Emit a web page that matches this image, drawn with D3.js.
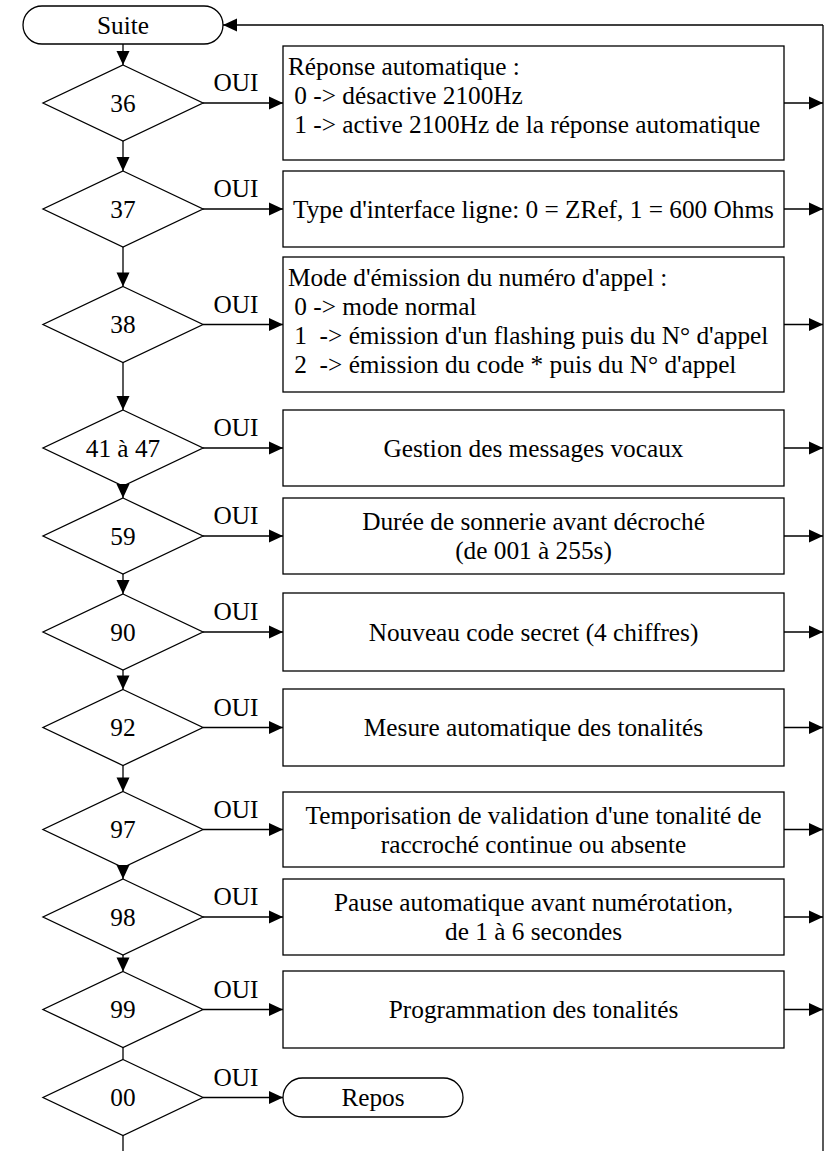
<!DOCTYPE html>
<html><head><meta charset="utf-8">
<script src="https://cdn.jsdelivr.net/npm/d3@7"></script>
<style>
body{margin:0;background:#fff}
svg text{font-family:"Liberation Serif","Times New Roman",Times,"DejaVu Serif",serif;font-size:25.3px;fill:#000}
</style>
</head><body>
<svg id="c" width="825" height="1151"></svg>
<script>
// ---- content ----
const startLabel = "Suite";
const endLabel = "Repos";
const yesLabel = "OUI";
const decisionCodes = ["36","37","38","41 à 47","59","90","92","97","98","99","00"];
const actionTexts = [
  ["Réponse automatique :", " 0 -> désactive 2100Hz", " 1 -> active 2100Hz de la réponse automatique"],
  ["Type d'interface ligne: 0 = ZRef, 1 = 600 Ohms"],
  ["Mode d'émission du numéro d'appel :", " 0 -> mode normal", " 1  -> émission d'un flashing puis du N° d'appel", " 2  -> émission du code * puis du N° d'appel"],
  ["Gestion des messages vocaux"],
  ["Durée de sonnerie avant décroché", "(de 001 à 255s)"],
  ["Nouveau code secret (4 chiffres)"],
  ["Mesure automatique des tonalités"],
  ["Temporisation de validation d'une tonalité de", "raccroché continue ou absente"],
  ["Pause automatique avant numérotation,", "de 1 à 6 secondes"],
  ["Programmation des tonalités"]
];
// links between consecutive decisions: true = arrow head, false = plain line
const linkHeads = [true,true,true,true,true,true,true,true,true,false];

// ---- layout (not data) ----
const layout = {
  boxTop:    [46,171,257,410,498,593,689,792,879,971,1078],
  boxBottom: [160,247,392,486,574,671,766,867,955,1048,1117],
  textMode:  ["top","mid","top","mid","mid","mid","mid","mid","mid","mid"],
  cx: 123, dHalfW: 80, dHalfH: 38,
  boxL: 283, boxR: 784, busX: 823,
  startBox: {x0: 23, x1: 223, y0: 6, y1: 44},
  endBoxR: 463,
  lineH: 29, yesX: 236
};

const svg = d3.select("#c");
const g = svg.append("g").attr("fill","none").attr("stroke","#000").attr("stroke-width",1.3);
const tg = svg.append("g");

const yRow = d3.scaleOrdinal().domain(d3.range(decisionCodes.length))
  .range(layout.boxTop.map((t,i)=>(t+layout.boxBottom[i])/2));

function arrowHead(x, y, dir){
  const L = 14, W = 6.5;
  let pts;
  if(dir==="down") pts=[[x,y],[x-W,y-L],[x+W,y-L]];
  else if(dir==="right") pts=[[x,y],[x-L,y-W],[x-L,y+W]];
  else pts=[[x,y],[x+L,y-W],[x+L,y+W]];
  svg.append("path").attr("d", d3.line()(pts)+"Z").attr("fill","#000").attr("stroke","none");
}
function line(x1,y1,x2,y2){
  g.append("line").attr("x1",x1).attr("y1",y1).attr("x2",x2).attr("y2",y2);
}
function terminal(x0,x1,y0,y1,label){
  const r=(y1-y0)/2;
  g.append("rect").attr("x",x0).attr("y",y0).attr("width",x1-x0).attr("height",y1-y0)
    .attr("rx",r).attr("ry",r).attr("fill","#fff");
  tg.append("text").attr("x",(x0+x1)/2).attr("y",(y0+y1)/2+8.5).attr("text-anchor","middle").text(label);
}

const cx = layout.cx, hw = layout.dHalfW, hh = layout.dHalfH;
const sb = layout.startBox;

const busTop = (sb.y0+sb.y1)/2;
line(layout.busX, busTop, layout.busX, 1151);
line(layout.busX, busTop, sb.x1, busTop);
arrowHead(sb.x1, busTop, "left");

terminal(sb.x0, sb.x1, sb.y0, sb.y1, startLabel);
line(cx, sb.y1, cx, yRow(0)-hh);
arrowHead(cx, yRow(0)-hh, "down");

decisionCodes.forEach((code,i)=>{
  const cy = yRow(i);
  g.append("path").attr("fill","#fff")
    .attr("d", d3.line()([[cx,cy-hh],[cx+hw,cy],[cx,cy+hh],[cx-hw,cy]])+"Z");
  tg.append("text").attr("x",cx).attr("y",cy+8.5).attr("text-anchor","middle").text(code);
  line(cx+hw, cy, layout.boxL, cy);
  arrowHead(layout.boxL, cy, "right");
  tg.append("text").attr("x",layout.yesX).attr("y",cy-12).attr("text-anchor","middle").text(yesLabel);
  if(i < decisionCodes.length-1){
    const ny = yRow(i+1)-hh;
    line(cx, cy+hh, cx, ny);
    if(linkHeads[i]) arrowHead(cx, ny, "down");
  } else {
    line(cx, cy+hh, cx, 1151);
  }
});

actionTexts.forEach((lines,i)=>{
  const t = layout.boxTop[i], b = layout.boxBottom[i], cy = yRow(i);
  g.append("rect").attr("x",layout.boxL).attr("y",t).attr("width",layout.boxR-layout.boxL).attr("height",b-t).attr("fill","#fff");
  const n = lines.length;
  lines.forEach((s,k)=>{
    const txt = tg.append("text").style("white-space","pre").text(s);
    if(layout.textMode[i]==="top"){
      txt.attr("x",layout.boxL+5).attr("y",t+layout.lineH+k*layout.lineH).attr("text-anchor","start");
    } else {
      txt.attr("x",(layout.boxL+layout.boxR)/2).attr("y",cy+8.5+(k-(n-1)/2)*layout.lineH).attr("text-anchor","middle");
    }
  });
  line(layout.boxR, cy, layout.busX, cy);
  arrowHead(layout.busX, cy, "right");
});

const last = decisionCodes.length-1;
terminal(layout.boxL, layout.endBoxR, layout.boxTop[last], layout.boxBottom[last], endLabel);
</script>
</body></html>
